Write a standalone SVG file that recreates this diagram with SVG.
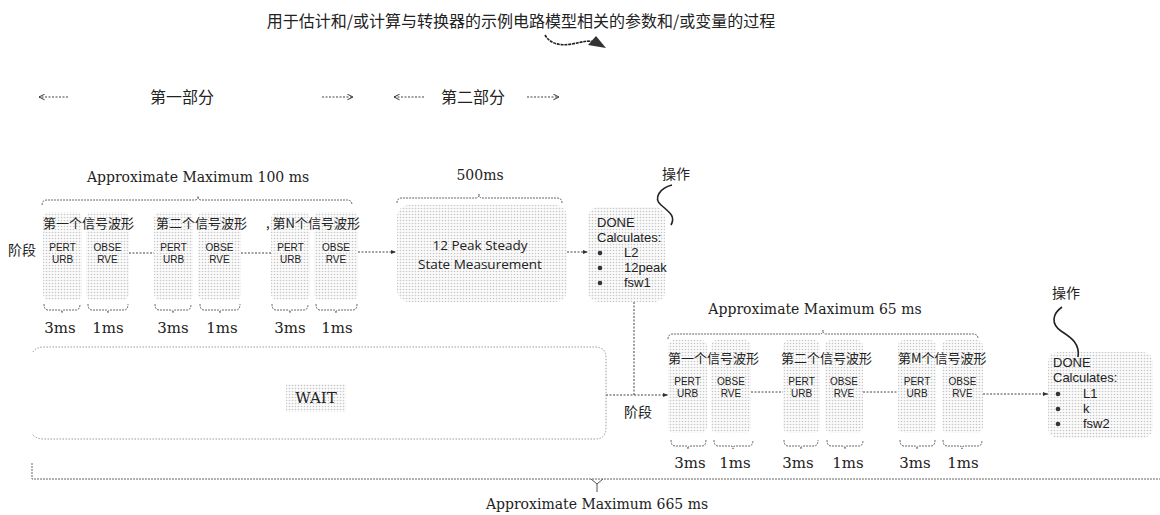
<svg xmlns="http://www.w3.org/2000/svg" width="1160" height="515" viewBox="0 0 1160 515">
<defs>
<pattern id="dots" width="3" height="3" patternUnits="userSpaceOnUse"><rect width="3" height="3" fill="#fbfbfb"/><circle cx="1.5" cy="1.5" r="0.8" fill="#c6c6c6"/></pattern>
<marker id="ah" viewBox="0 0 10 10" refX="10" refY="5" markerWidth="5" markerHeight="5" orient="auto-start-reverse"><path d="M0,1 L10,5 L0,9 z" fill="#333"/></marker>
<marker id="chev" viewBox="0 0 10 10" refX="10" refY="5" markerWidth="7" markerHeight="7" orient="auto-start-reverse"><path d="M2,1 L10,5 L2,9" fill="none" stroke="#333" stroke-width="1.4"/></marker>
</defs>
<style>
.box{fill:url(#dots);stroke:none}
.cn{fill:#222;font-family:"Noto Sans CJK SC",sans-serif}
.sf{fill:#222;font-family:"DejaVu Serif","Liberation Serif",serif;text-anchor:middle}
.ss{fill:#222;font-family:"Open Sans","Liberation Sans",sans-serif}
.dn{fill:#222;font-family:"Liberation Sans",sans-serif;font-size:13px}
.col{fill:#222;font-family:"Liberation Sans",sans-serif;font-size:10px;text-anchor:middle}
.conn{fill:none;stroke:#444;stroke-width:1;stroke-dasharray:2 1.5}
.br{fill:none;stroke:#666;stroke-width:1;stroke-dasharray:2 1}
.sq{fill:none;stroke:#222;stroke-width:1.6}
</style>
<rect width="1160" height="515" fill="#fff"/>

<g id="title">
<text class="cn" x="521" y="27" font-size="16" text-anchor="middle">用于估计和/或计算与转换器的示例电路模型相关的参数和/或变量的过程</text>
<path class="sq" d="M545,35 C550,44 560,46 572,44 C582,42 588,40 595,42" stroke-width="1.8" stroke-dasharray="3 0.8"/>
<polygon points="588,45 596,36 606,48" fill="#333"/>
</g>

<g id="parts">
<line class="conn" x1="68" y1="97" x2="39" y2="97" marker-end="url(#chev)"/>
<text class="cn" x="182" y="103" font-size="16" text-anchor="middle">第一部分</text>
<line class="conn" x1="322" y1="97" x2="353" y2="97" marker-end="url(#chev)"/>
<line class="conn" x1="424" y1="97" x2="394" y2="97" marker-end="url(#chev)"/>
<text class="cn" x="473" y="103" font-size="16" text-anchor="middle">第二部分</text>
<line class="conn" x1="527" y1="97" x2="559" y2="97" marker-end="url(#chev)"/>
</g>

<g id="phase1-header">
<text class="sf" x="198" y="182" font-size="14">Approximate Maximum 100 ms</text>
<path class="br" d="M42,205 Q42,200 47,200 L195,200 Q198,200 198,196 Q198,200 201,200 L347,200 Q352,200 352,205"/>
<text class="cn" x="22" y="255" font-size="14" text-anchor="middle">阶段</text>
</g>

<g id="p1-wave1">
<rect class="box" x="43" y="212" width="39" height="88" rx="6"/>
<rect class="box" x="86" y="212" width="43" height="88" rx="6"/>
<text class="cn" x="43" y="228" font-size="13">第一个信号波形</text>
<text class="col" y="251"><tspan x="62.5">PERT</tspan><tspan x="62.5" dy="12">URB</tspan></text>
<text class="col" y="251"><tspan x="107.5">OBSE</tspan><tspan x="107.5" dy="12">RVE</tspan></text>
<path class="br" d="M44,304 Q44,310 48,310 L60,310 Q62,310 62,313 Q62,310 64,310 L76,310 Q80,310 80,304"/>
<path class="br" d="M88,304 Q88,310 92,310 L106,310 Q108,310 108,313 Q108,310 110,310 L124,310 Q128,310 128,304"/>
<text class="sf" x="60" y="333" font-size="15">3ms</text>
<text class="sf" x="108" y="333" font-size="15">1ms</text>
</g>

<g id="p1-wave2">
<rect class="box" x="154" y="212" width="39" height="88" rx="6"/>
<rect class="box" x="198" y="212" width="43" height="88" rx="6"/>
<text class="cn" x="156" y="228" font-size="13">第二个信号波形</text>
<text class="col" y="251"><tspan x="173.5">PERT</tspan><tspan x="173.5" dy="12">URB</tspan></text>
<text class="col" y="251"><tspan x="219.5">OBSE</tspan><tspan x="219.5" dy="12">RVE</tspan></text>
<path class="br" d="M155,304 Q155,310 159,310 L171,310 Q173,310 173,313 Q173,310 175,310 L187,310 Q191,310 191,304"/>
<path class="br" d="M200,304 Q200,310 204,310 L218,310 Q220,310 220,313 Q220,310 222,310 L236,310 Q240,310 240,304"/>
<text class="sf" x="173" y="333" font-size="15">3ms</text>
<text class="sf" x="222" y="333" font-size="15">1ms</text>
</g>

<g id="p1-waveN">
<rect class="box" x="271" y="212" width="39" height="88" rx="6"/>
<rect class="box" x="314" y="212" width="44" height="88" rx="6"/>
<text class="cn" x="266" y="228" font-size="13">, 第N个信号波形</text>
<text class="col" y="251"><tspan x="290.5">PERT</tspan><tspan x="290.5" dy="12">URB</tspan></text>
<text class="col" y="251"><tspan x="336">OBSE</tspan><tspan x="336" dy="12">RVE</tspan></text>
<path class="br" d="M272,304 Q272,310 276,310 L288,310 Q290,310 290,313 Q290,310 292,310 L304,310 Q308,310 308,304"/>
<path class="br" d="M316,304 Q316,310 320,310 L334,310 Q336,310 336,313 Q336,310 338,310 L353,310 Q357,310 357,304"/>
<text class="sf" x="290" y="333" font-size="15">3ms</text>
<text class="sf" x="337" y="333" font-size="15">1ms</text>
</g>

<g id="steady">
<text class="sf" x="480" y="180" font-size="14">500ms</text>
<path class="br" d="M397,203 Q397,198 402,198 L476,198 Q479,198 479,194 Q479,198 482,198 L557,198 Q562,198 562,203"/>
<rect class="box" x="397" y="205" width="170" height="97" rx="12"/>
<text class="ss" x="480" y="250" font-size="13.5" text-anchor="middle">12 Peak Steady</text>
<text class="ss" x="480" y="269" font-size="13.5" text-anchor="middle">State Measurement</text>
</g>

<g id="done1">
<rect class="box" x="588" y="207" width="77" height="95" rx="10"/>
<text class="dn" x="597" y="227">DONE</text>
<text class="dn" x="597" y="242">Calculates:</text>
<circle cx="600" cy="253" r="2.3" fill="#333"/><text class="dn" x="624" y="257">L2</text>
<circle cx="600" cy="268" r="2.3" fill="#333"/><text class="dn" x="624" y="272">12peak</text>
<circle cx="600" cy="283" r="2.3" fill="#333"/><text class="dn" x="624" y="287">fsw1</text>
<text class="cn" x="676" y="179" font-size="14" text-anchor="middle">操作</text>
<path class="sq" d="M672,185 C660,188 653,198 661,205 C669,212 676,216 671,225"/>
</g>

<g id="wait">
<path d="M33,352 Q36,347 44,347 L595,347 Q606,347 606,358 L606,428 Q606,439 595,439 L44,439 Q36,439 32,434" fill="#fff" stroke="#999" stroke-width="1" stroke-dasharray="1.5 1.5"/>
<rect class="box" x="286" y="384" width="60" height="28"/>
<text class="sf" x="316" y="403" font-size="15">WAIT</text>
</g>

<g id="phase2-header">
<text class="sf" x="815" y="314" font-size="14">Approximate Maximum 65 ms</text>
<path class="br" d="M668,339 Q668,334 673,334 L820,334 Q823,334 823,330 Q823,334 826,334 L973,334 Q978,334 978,339"/>
<text class="cn" x="638" y="417" font-size="14" text-anchor="middle">阶段</text>
</g>

<g id="p2-wave1">
<rect class="box" x="668" y="340" width="39" height="93" rx="6"/>
<rect class="box" x="711" y="340" width="40" height="93" rx="6"/>
<text class="cn" x="668" y="363" font-size="13">第一个信号波形</text>
<text class="col" y="385"><tspan x="687.5">PERT</tspan><tspan x="687.5" dy="12">URB</tspan></text>
<text class="col" y="385"><tspan x="731">OBSE</tspan><tspan x="731" dy="12">RVE</tspan></text>
<path class="br" d="M671,440 Q671,446 675,446 L686,446 Q688,446 688,449 Q688,446 690,446 L702,446 Q706,446 706,440"/>
<path class="br" d="M714,440 Q714,446 718,446 L731,446 Q733,446 733,449 Q733,446 735,446 L749,446 Q753,446 753,440"/>
<text class="sf" x="690" y="468" font-size="15">3ms</text>
<text class="sf" x="735" y="468" font-size="15">1ms</text>
</g>

<g id="p2-wave2">
<rect class="box" x="783" y="340" width="37" height="93" rx="6"/>
<rect class="box" x="825" y="340" width="38" height="93" rx="6"/>
<text class="cn" x="781" y="363" font-size="13">第二个信号波形</text>
<text class="col" y="385"><tspan x="801.5">PERT</tspan><tspan x="801.5" dy="12">URB</tspan></text>
<text class="col" y="385"><tspan x="844">OBSE</tspan><tspan x="844" dy="12">RVE</tspan></text>
<path class="br" d="M784,440 Q784,446 788,446 L799,446 Q801,446 801,449 Q801,446 803,446 L814,446 Q818,446 818,440"/>
<path class="br" d="M827,440 Q827,446 831,446 L843,446 Q845,446 845,449 Q845,446 847,446 L859,446 Q863,446 863,440"/>
<text class="sf" x="798" y="468" font-size="15">3ms</text>
<text class="sf" x="848" y="468" font-size="15">1ms</text>
</g>

<g id="p2-waveM">
<rect class="box" x="898" y="340" width="38" height="93" rx="6"/>
<rect class="box" x="942" y="340" width="41" height="93" rx="6"/>
<text class="cn" x="898" y="363" font-size="13">第M个信号波形</text>
<text class="col" y="385"><tspan x="917">PERT</tspan><tspan x="917" dy="12">URB</tspan></text>
<text class="col" y="385"><tspan x="962.5">OBSE</tspan><tspan x="962.5" dy="12">RVE</tspan></text>
<path class="br" d="M900,440 Q900,446 904,446 L915,446 Q917,446 917,449 Q917,446 919,446 L931,446 Q935,446 935,440"/>
<path class="br" d="M943,440 Q943,446 947,446 L960,446 Q962,446 962,449 Q962,446 964,446 L978,446 Q982,446 982,440"/>
<text class="sf" x="915" y="468" font-size="15">3ms</text>
<text class="sf" x="963" y="468" font-size="15">1ms</text>
</g>

<g id="done2">
<rect class="box" x="1048" y="352" width="105" height="86" rx="10"/>
<text class="dn" x="1053" y="367">DONE</text>
<text class="dn" x="1053" y="382">Calculates:</text>
<circle cx="1058" cy="394" r="2.3" fill="#333"/><text class="dn" x="1083" y="398">L1</text>
<circle cx="1058" cy="409" r="2.3" fill="#333"/><text class="dn" x="1083" y="413">k</text>
<circle cx="1058" cy="424" r="2.3" fill="#333"/><text class="dn" x="1083" y="428">fsw2</text>
<text class="cn" x="1066" y="298" font-size="14" text-anchor="middle">操作</text>
<path class="sq" d="M1062,307 C1052,314 1051,324 1061,331 C1072,338 1080,344 1078,357"/>
</g>

<g id="total">
<path class="br" d="M32,463 L32,479 L1160,479"/>
<path fill="none" stroke="#555" stroke-width="1" d="M591,479 L597,484 L603,479 M597,484 L597,492"/>
<text class="sf" x="597" y="509" font-size="14">Approximate Maximum 665 ms</text>
</g>

<g id="connectors">
<line class="conn" x1="129" y1="253" x2="154" y2="253"/>
<line class="conn" x1="241" y1="253" x2="271" y2="253"/>
<line class="conn" x1="358" y1="252" x2="396" y2="252" marker-end="url(#ah)"/>
<line class="conn" x1="567" y1="252" x2="588" y2="252" marker-end="url(#ah)"/>
<line class="conn" x1="634" y1="302" x2="634" y2="395"/>
<line class="conn" x1="606" y1="395" x2="668" y2="395" marker-end="url(#ah)"/>
<line class="conn" x1="751" y1="392" x2="783" y2="392"/>
<line class="conn" x1="863" y1="392" x2="898" y2="392"/>
<line class="conn" x1="983" y1="394" x2="1048" y2="394" marker-end="url(#ah)"/>
</g>
</svg>
